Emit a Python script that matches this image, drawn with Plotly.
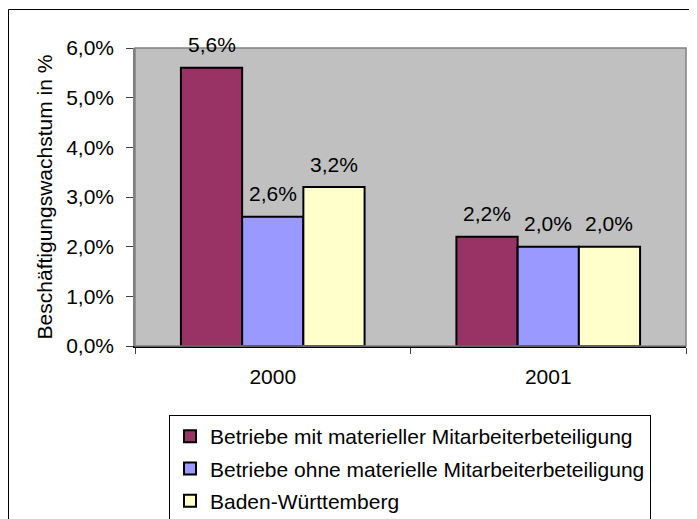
import plotly.graph_objects as go

categories = ["2000", "2001"]
series_names = [
    "Betriebe mit materieller Mitarbeiterbeteiligung",
    "Betriebe ohne materielle Mitarbeiterbeteiligung",
    "Baden-Württemberg",
]
series_values = [
    [0.056, 0.022],
    [0.026, 0.020],
    [0.032, 0.020],
]
series_colors = ["#993366", "#9999FF", "#FFFFCC"]
y_ticks = [0, 0.01, 0.02, 0.03, 0.04, 0.05, 0.06]

FONT = "Liberation Sans, Arial, sans-serif"
FS = 21
OFF = 8  # page body margin
W, H = 697 - OFF, 519 - OFF
# plot area in page pixels: x 135..686, y 48..346
L, R, T, B = 135 - OFF, W - (686 - OFF), 48 - OFF, H - (346 - OFF)
pw, ph = W - L - R, H - T - B

bargap = 1 / 3
nser = len(series_values)
bw = (1 - bargap) / nser

fig = go.Figure()
annotations = []
for i, (name, vals, col) in enumerate(zip(series_names, series_values, series_colors)):
    fig.add_trace(go.Bar(
        x=categories, y=vals, name=name, legendgroup=f"g{i}",
        marker=dict(color=col, line=dict(color="black", width=2)),
    ))
    off = (i - (nser - 1) / 2) * bw
    for ci, v in enumerate(vals):
        annotations.append(dict(
            x=ci + off, y=v, xref="x", yref="y", text=f"{v*100:.1f}%".replace(".", ","),
            showarrow=False, yshift=23, yanchor="middle",
            font=dict(family=FONT, size=FS, color="black"),
        ))

def px_to_paper_x(px):
    return (px - OFF - L) / pw

def px_to_paper_y(py):
    return (H - B - (py - OFF)) / ph

shapes = [
    # plot area border
    dict(type="rect", xref="paper", yref="paper", x0=0, y0=0, x1=1, y1=1,
         line=dict(color="#808080", width=1.5), layer="above"),
    # outer chart border
    dict(type="rect", xref="paper", yref="paper",
         x0=px_to_paper_x(8.5), y0=px_to_paper_y(540), x1=px_to_paper_x(720), y1=px_to_paper_y(9.5),
         line=dict(color="black", width=1)),
]

fig.update_layout(
    width=W, height=H,
    margin=dict(l=L, r=R, t=T, b=B, autoexpand=False),
    paper_bgcolor="white", plot_bgcolor="#C0C0C0",
    barmode="group", bargap=bargap, bargroupgap=0,
    separators=",.",
    font=dict(family=FONT, size=FS, color="black"),
    showlegend=True,
    legend=dict(
        x=px_to_paper_x(410), xanchor="center",
        y=px_to_paper_y(415), yanchor="top",
        bordercolor="black", borderwidth=1, bgcolor="white",
        font=dict(family=FONT, size=FS, color="black"),
        traceorder="grouped", tracegroupgap=2,
        itemwidth=30,
    ),
    annotations=annotations,
    shapes=shapes,
    xaxis=dict(
        type="category", tickson="boundaries", ticks="outside", ticklen=6,
        tickcolor="#404040", showline=True, linecolor="black", linewidth=1.5,
        showgrid=False, ticklabelstandoff=11, automargin=False,
    ),
    yaxis=dict(
        range=[0, 0.06], tickvals=y_ticks, tickformat=".1%",
        ticks="outside", ticklen=7, tickcolor="#404040",
        showline=True, linecolor="#808080", linewidth=1.5,
        showgrid=False, zeroline=False, ticklabelstandoff=8, automargin=False,
        title=dict(text="Beschäftigungswachstum in %", standoff=8,
                   font=dict(family=FONT, size=FS, color="black")),
    ),
)

fig.write_html("out.html")
